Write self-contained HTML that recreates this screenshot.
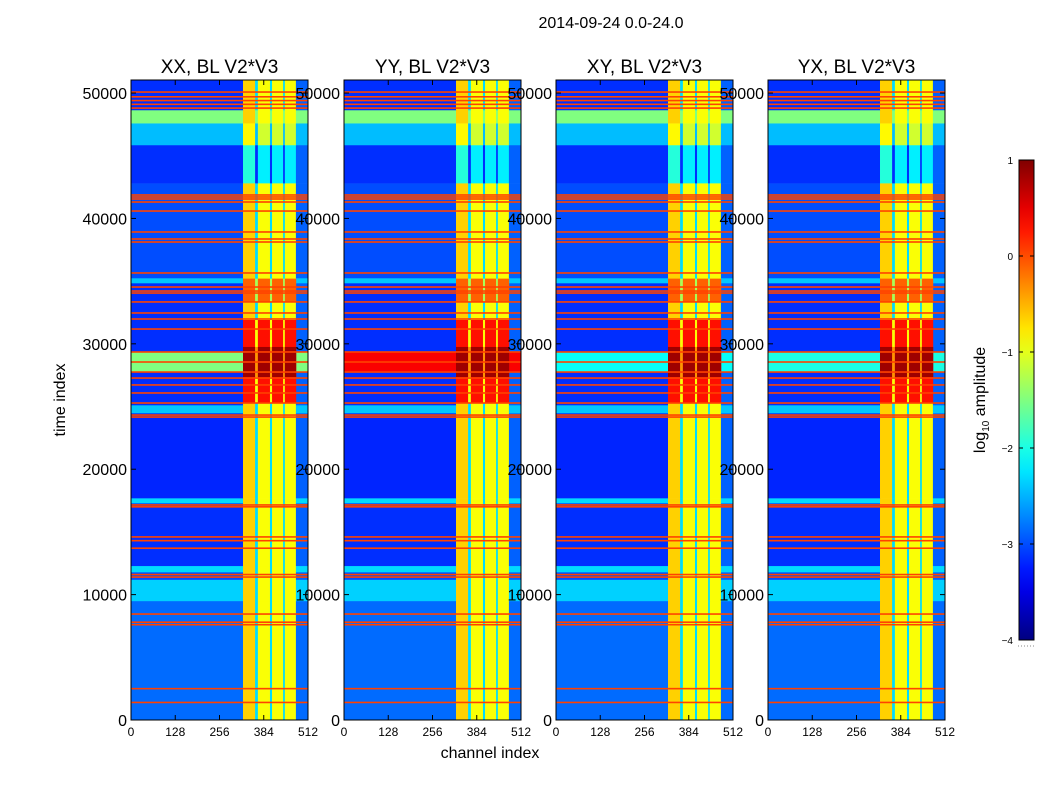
<!DOCTYPE html>
<html><head><meta charset="utf-8"><style>
body{margin:0;background:#fff;}
svg text{font-family:"Liberation Sans","DejaVu Sans",sans-serif;}
</style></head><body>
<svg id="fig" width="1050" height="800" xmlns="http://www.w3.org/2000/svg">
<rect width="1050" height="800" fill="#fff"/>
<text x="611" y="28" font-size="16" text-anchor="middle">2014-09-24 0.0-24.0</text>
<text transform="translate(65,400) rotate(-90)" font-size="16" text-anchor="middle">time index</text>
<text x="490" y="758" font-size="16" text-anchor="middle">channel index</text>
<g id="panels"></g>
<g id="cbar"></g>
</svg>
<script>
const panelTitles=["XX, BL V2*V3","YY, BL V2*V3","XY, BL V2*V3","YX, BL V2*V3"];
const panelLeft=[131,344,556,768];
const xTicks=[0,128,256,384,512];
const yTicks=[0,10000,20000,30000,40000,50000];
const cbarTicks=[1,0,-1,-2,-3,-4];
// channel bands: [start, end, log amplitude]
const channelBands=[[0,324,-3.2],[324,359,-0.65],[359,367,-2.3],[367,402,-0.9],[402,408,-2.3],[408,440,-0.9],[440,445,-2.3],[445,477,-0.9],[477,512,-2.9]];
// time bands: [start, end, level, column adjustment]
const timeBands=[
[0,9500,-2.85,0],[9500,11200,-2.35,0],[11200,11800,-3.0,0],[11800,12300,-2.3,0],[12300,17300,-3.15,0],
[17300,17700,-2.3,0],[17700,24160,-3.2,0],[24160,24480,-3.2,0],[24480,25120,-2.4,0],[25120,31900,-3.15,0],
[31900,34850,-3.15,0],[34850,35250,-2.4,0],[35250,42820,-3.0,0],[42820,45860,-3.15,-1.3],
[45860,47600,-2.45,-0.2],[47600,48650,-1.5,0],[48650,51040,-3.15,0]];
// hot region: [start,end,level]
const hotBands=[[25280,31900,0.3],[27350,29750,0.85],[33300,35200,-0.1]];
const glowStart=27750, glowEnd=29350;
const glowLevels=[-1.5,0.4,-2.1,-2.0];
const hotScale=[1.0,1.0,1.0,1.0];
const orangeLines=[1400,2500,7600,7800,8450,11400,11600,13700,14300,14600,17000,17150,24160,24320,25280,26080,26720,27270,27750,28550,29350,31180,31980,32460,33340,34050,34210,34530,35650,38120,38360,38920,40590,41310,41550,41710,41870,48800,49100,49400,49700,50080];

const W=177,TOP=80,BOT=720,YMAX=51040,XMAX=512;
function jet(v){let t=(v+4)/5;t=Math.max(0,Math.min(1,t));
 const c=x=>Math.round(255*Math.max(0,Math.min(1,1.5-Math.abs(x))));
 return `rgb(${c(4*t-3)},${c(4*t-2)},${c(4*t-1)})`;}
const NS="http://www.w3.org/2000/svg";
function mk(tag,attrs,parent){const e=document.createElementNS(NS,tag);for(const k in attrs)e.setAttribute(k,attrs[k]);parent.appendChild(e);return e;}
const yS=v=>BOT-v*(BOT-TOP)/YMAX;
const panels=document.getElementById('panels');
panelLeft.forEach((L,p)=>{
 const xS=c=>L+c*W/XMAX;
 const g=mk('g',{},panels);
 
 
 timeBands.forEach(tb=>{
  channelBands.forEach((cb,j)=>{
   const isCol=j>0&&j<channelBands.length-1;
   let v=Math.max(tb[2],cb[2]+(isCol?tb[3]:0));
   const r=mk('rect',{x:xS(cb[0]),y:yS(tb[1]),width:xS(cb[1])-xS(cb[0])+0.3,height:yS(tb[0])-yS(tb[1])+0.3,fill:jet(v)},g);
   
   
  });
 });
 const gl=mk('rect',{x:xS(0),y:yS(glowEnd),width:xS(324)-xS(0),height:yS(glowStart)-yS(glowEnd),fill:jet(glowLevels[p])},g);
 
 
 const gl2=mk('rect',{x:xS(477),y:yS(glowEnd),width:xS(512)-xS(477),height:yS(glowStart)-yS(glowEnd),fill:jet(glowLevels[p])},g);
 
 
 hotBands.forEach(hb=>{
  channelBands.forEach((cb,j)=>{
   if(j==0||j==channelBands.length-1)return;
   const v=cb[2]<-2?hb[2]-1.2:hb[2]*hotScale[p];
   const r=mk('rect',{x:xS(cb[0]),y:yS(hb[1]),width:xS(cb[1])-xS(cb[0])+0.3,height:yS(hb[0])-yS(hb[1]),fill:jet(v)},g);
   
   
  });
 });
 orangeLines.forEach(t=>{
  const r=mk('rect',{x:L,y:yS(t)-0.8,width:W,height:1.6,fill:jet(0.05)},g);
  
  
 });
 const fr=mk('rect',{x:L,y:TOP,width:W,height:BOT-TOP,fill:'none',stroke:'#000','stroke-width':1},g);
 
 
 const tt=mk('text',{x:L+W/2,y:73,'font-size':19,'text-anchor':'middle'},g);tt.textContent=panelTitles[p];
 
 
 xTicks.forEach(c=>{
  const t=mk('text',{x:xS(c),y:736,'font-size':12,'text-anchor':'middle'},g);t.textContent=c;
  
  
  mk('line',{x1:xS(c),x2:xS(c),y1:BOT,y2:BOT-5,stroke:'#000'},g);
  mk('line',{x1:xS(c),x2:xS(c),y1:TOP,y2:TOP+5,stroke:'#000'},g);
 });
 yTicks.forEach(v=>{
  const t=mk('text',{x:L-4,y:yS(v)+6,'font-size':16,'text-anchor':'end'},g);t.textContent=v;
  
  
  mk('line',{x1:L,x2:L+5,y1:yS(v),y2:yS(v),stroke:'#000'},g);
  mk('line',{x1:L+W,x2:L+W-5,y1:yS(v),y2:yS(v),stroke:'#000'},g);
 });
});
const cb=document.getElementById('cbar');
const CT=160,CB=640,CX=1019,CW=15;
const defs=mk('defs',{},cb);
const lg=mk('linearGradient',{id:'jg',x1:0,y1:1,x2:0,y2:0},defs);
for(let i=0;i<=20;i++){mk('stop',{offset:i/20,'stop-color':jet(-4+5*i/20)},lg);}
mk('rect',{x:CX,y:CT,width:CW,height:CB-CT,fill:'url(#jg)',stroke:'#000','stroke-width':1},cb);
cbarTicks.forEach(v=>{
 const y=CB-(v+4)/5*(CB-CT);
 const t=mk('text',{x:CX-6,y:y+4,'font-size':10,'text-anchor':'end'},cb);t.textContent=(v<0?'\u2212'+(-v):v);
 
 
 mk('line',{x1:CX,x2:CX+4,y1:y,y2:y,stroke:'#000'},cb);
 mk('line',{x1:CX+CW,x2:CX+CW-4,y1:y,y2:y,stroke:'#000'},cb);
});
const cl=mk('text',{transform:'translate(985,400) rotate(-90)','font-size':16,'text-anchor':'middle'},cb);
cl.innerHTML='log<tspan font-size="10" dy="4">10</tspan><tspan dy="-4"> amplitude</tspan>';


mk('line',{x1:1018,x2:1035,y1:646,y2:646,stroke:'#888','stroke-dasharray':'1,2'},cb);
</script>
</body></html>
